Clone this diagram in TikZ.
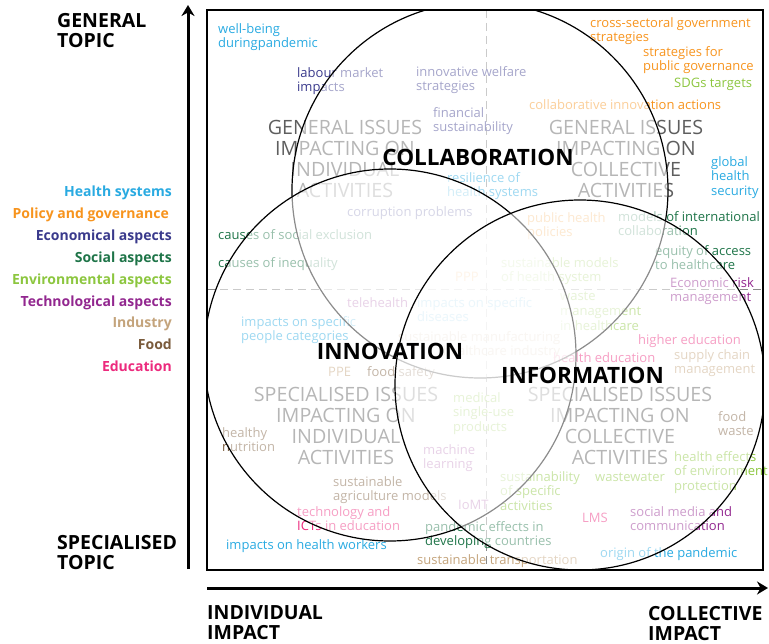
\documentclass[tikz,border=0pt]{standalone}
\usepackage{fontspec}
\setmainfont{Open Sans}
\usetikzlibrary{arrows.meta}
\definecolor{hs}{HTML}{29AAE1}
\definecolor{pg}{HTML}{F7941E}
\definecolor{ec}{HTML}{3A3A8C}
\definecolor{so}{HTML}{1E7448}
\definecolor{en}{HTML}{8CC63F}
\definecolor{te}{HTML}{92278F}
\definecolor{ind}{HTML}{C4A47C}
\definecolor{fo}{HTML}{7A5B3C}
\definecolor{ed}{HTML}{EC2A7D}
\definecolor{bigg}{HTML}{5E5E5E}
\definecolor{dashg}{HTML}{8A8A8A}
\begin{document}
\begin{tikzpicture}[x=1pt,y=-1pt,
  lb/.style={anchor=north west,inner sep=0pt,align=left,font=\fontsize{13}{14.7}\selectfont,yshift=6pt,execute at begin node=\strut},
  lbr/.style={lb,align=right},
  big/.style={inner sep=0pt,align=center,text=bigg,font=\fontsize{19.7}{20.7}\selectfont},
  hd/.style={inner sep=0pt,font=\bfseries\fontsize{22.5}{24}\selectfont},
  ax/.style={anchor=north west,inner sep=0pt,align=left,font=\bfseries\fontsize{19.5}{20}\selectfont},
  lg/.style={anchor=base east,inner sep=0pt,font=\bfseries\fontsize{14}{15}\selectfont},
  venn/.style={draw=black,line width=1.2pt,fill=white,fill opacity=0.55},
  axis/.style={line width=3pt,-{Stealth[length=11pt,width=13pt]}},
  divider/.style={draw=dashg,line width=1pt,dash pattern=on 8pt off 5pt}
]
\useasboundingbox (0,0) rectangle (769,644);
\coordinate (bxA) at (207,10);
\coordinate (bxB) at (763,570);
% dashed quadrant lines
\coordinate (dvA) at (486,10);
\coordinate (dvB) at (486,570);
\coordinate (dhA) at (207,290);
\coordinate (dhB) at (763,290);
\draw[divider] (dvA) -- (dvB);
\draw[divider] (dhA) -- (dhB);
% big gray texts
\node[big] (gi) at (345,159) {GENERAL ISSUES\\IMPACTING ON\\INDIVIDUAL\\ACTIVITIES};
\node[big] (gc) at (626,159) {GENERAL ISSUES\\IMPACTING ON\\COLLECTIVE\\ACTIVITIES};
\node[big] (si) at (346,426) {SPECIALISED ISSUES\\IMPACTING ON\\INDIVIDUAL\\ACTIVITIES};
\node[big] (sc) at (620,426) {SPECIALISED ISSUES\\IMPACTING ON\\COLLECTIVE\\ACTIVITIES};
% health systems
\node[lb,text=hs] (h1) at (218,29) {well-being\\duringpandemic};
\node[lb,text=hs] (h2) at (447,178) {resilience of\\health systems};
\node[lb,text=hs] (h3) at (711,162) {global\\health\\security};
\node[lb,text=hs] (h4) at (417,303) {impacts on specific\\diseases};
\node[lb,text=hs] (h5) at (241,322) {impacts on specific\\people categories};
\node[lb,text=hs] (h6) at (226,545) {impacts on health workers};
\node[lb,text=hs] (h7) at (600,553) {origin of the pandemic};
% policy and governance
\node[lb,text=pg] (p1) at (590,23) {cross-sectoral government\\strategies};
\node[lb,text=pg] (p2) at (643,52) {strategies for\\public governance};
\node[lb,text=pg] (p3) at (529,105) {collaborative innovation actions};
\node[lb,text=pg] (p4) at (527,218) {public health\\policies};
\node[lb,text=pg] (p5) at (455,277) {PPP};
% economical
\node[lb,text=ec] (e1) at (297,73) {labour market\\impacts};
\node[lb,text=ec] (e2) at (416,72) {innovative welfare\\strategies};
\node[lb,text=ec] (e3) at (433,113) {financial\\sustainability};
\node[lb,text=ec] (e4) at (347,212) {corruption problems};
% social
\node[lb,text=so] (s1) at (218,235) {causes of social exclusion};
\node[lb,text=so] (s2) at (218,263) {causes of inequality};
\node[lb,text=so] (s3) at (618,217) {models of international\\collaboration};
\node[lb,text=so] (s4) at (655,251) {equity of access\\to healthcare};
\node[lb,text=so] (s5) at (425,527) {pandemic effects in\\developing countries};
% environmental
\node[lb,text=en] (v1) at (674,83) {SDGs targets};
\node[lb,text=en] (v2) at (501,263) {sustainable models\\of health system};
\node[lb,text=en] (v3) at (453,398) {medical\\single-use\\products};
\node[lb,text=en] (v4) at (560,298) {waste\\management\\in healthcare};
\node[lb,text=en] (v5) at (674,457) {health effects\\of environment\\protection};
\node[lb,text=en] (v6) at (500,477) {sustainability\\of specific\\activities};
\node[lb,text=en] (v7) at (595,477) {wastewater};
% technological
\node[lb,text=te] (t1) at (670,283) {Economic risk\\management};
\node[lb,text=te] (t2) at (347,303) {telehealth};
\node[lb,text=te] (t3) at (423,450) {machine\\learning};
\node[lb,text=te] (t4) at (458,505) {IoMT};
\node[lb,text=te] (t5) at (630,512) {social media and\\communication};
% industry
\node[lbr,text=ind] (i1) at (398,337) {sustainable manufacturing\\healthcare industry};
\node[lb,text=ind] (i2) at (328,372) {PPE};
\node[lb,text=ind] (i3) at (417,560) {sustainable transportation};
\node[lb,text=ind] (i4) at (674,355) {supply chain\\management};
% food
\node[lb,text=fo] (f1) at (367,372) {food safety};
\node[lb,text=fo] (f2) at (222,433) {healthy\\nutrition};
\node[lb,text=fo] (f3) at (333,482) {sustainable\\agriculture models};
\node[lb,text=fo] (f4) at (718,417) {food\\waste};
% education
\node[lb,text=ed] (d1) at (638,340) {higher education};
\node[lb,text=ed] (d2) at (553,358) {health education};
\node[lb,text=ed] (d3) at (297,512) {technology and\\ICTs in education};
\node[lb,text=ed] (d4) at (582,518) {LMS};
% venn circles
\coordinate (cC) at (480,190);
\coordinate (cN) at (390,355);
\coordinate (cF) at (580,385);
\begin{scope}
\clip (bxA) rectangle (bxB);
\draw[venn] (cC) circle[radius=188];
\draw[venn] (cN) circle[radius=186];
\draw[venn] (cF) circle[radius=185];
\end{scope}
\node[hd] (lC) at (478,157.5) {COLLABORATION};
\node[hd] (lN) at (390,351.5) {INNOVATION};
\node[hd] (lF) at (582.5,375) {INFORMATION};
% frame
\draw[line width=1.5pt] (bxA) rectangle (bxB);
% axes
\coordinate (avA) at (188,569);
\coordinate (avB) at (188,5);
\coordinate (ahA) at (207,588);
\coordinate (ahB) at (768,588);
\draw[axis] (avA) -- (avB);
\draw[axis] (ahA) -- (ahB);
\node[ax] (xGT) at (57,12.7) {GENERAL\\TOPIC};
\node[ax] (xST) at (57,535) {SPECIALISED\\TOPIC};
\node[ax] (xII) at (207,605) {INDIVIDUAL\\IMPACT};
\node[ax] (xCI) at (648,606) {COLLECTIVE\\IMPACT};
% legend
\node[lg,text=hs] (g1) at (172,196.7) {Health systems};
\node[lg,text=pg] (g2) at (169,218.6) {Policy and governance};
\node[lg,text=ec] (g3) at (172,240.5) {Economical aspects};
\node[lg,text=so] (g4) at (172,262.3) {Social aspects};
\node[lg,text=en] (g5) at (172,284.2) {Environmental aspects};
\node[lg,text=te] (g6) at (172,306.1) {Technological aspects};
\node[lg,text=ind] (g7) at (172,328.0) {Industry};
\node[lg,text=fo] (g8) at (172,349.8) {Food};
\node[lg,text=ed] (g9) at (172,371.7) {Education};
\end{tikzpicture}
\end{document}
